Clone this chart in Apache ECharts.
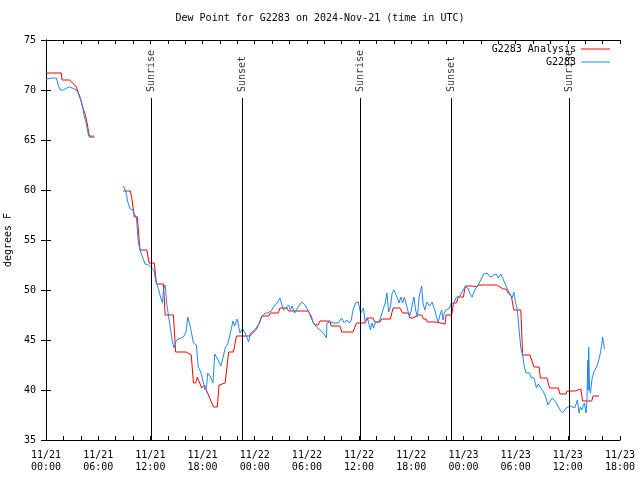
<!DOCTYPE html>
<html>
<head>
<meta charset="utf-8">
<script src="https://cdn.jsdelivr.net/npm/echarts@6/dist/echarts.min.js"></script>
<style>html,body{margin:0;padding:0;background:#fff}#c{width:640px;height:480px}</style>
</head>
<body>
<div id="c"></div>
<script>
// hours since 2024-11-21 00:00 UTC
const xTickLabels = ['11/21\n00:00','11/21\n06:00','11/21\n12:00','11/21\n18:00','11/22\n00:00','11/22\n06:00','11/22\n12:00','11/22\n18:00','11/23\n00:00','11/23\n06:00','11/23\n12:00','11/23\n18:00'];

const analysisTimes = [0,1.75,1.85,2.7,3.2,3.5,3.6,3.9,4.1,4.2,4.5,4.7,5.0,5.55,7,
8.9,9.7,9.9,10.15,10.5,10.8,11.6,11.85,12.45,12.7,13.5,13.7,14.65,14.9,16.1,16.7,16.95,17.2,17.4,17.6,17.9,18.2,18.4,19.25,19.7,19.9,20.6,21.0,21.55,21.9,23.45,24.2,24.6,24.8,25.6,25.8,26.7,26.9,27.7,27.9,30.2,30.6,30.9,31.3,31.5,32.65,32.8,33.8,34.0,35.3,35.7,36.7,36.9,37.6,37.8,38.4,38.6,39.6,39.9,40.7,41.0,41.7,41.85,42.2,42.4,42.8,43.2,43.4,43.7,43.85,44.85,45.0,45.9,46.0,46.65,46.85,47.2,47.4,48.0,48.2,49.0,49.2,49.5,49.8,51.8,52.2,52.6,52.9,53.15,53.5,53.7,53.8,54.6,54.8,55.65,56.1,56.7,56.85,57.6,57.9,58.9,59.1,59.8,59.9,60.8,61.0,61.5,61.7,62.75,62.9,63.6];
const analysisValues = [71.7,71.7,71.0,71.0,70.6,70.3,70.0,69.3,68.7,68.3,67.6,66.8,65.3,65.3,null,
59.9,59.9,59.0,57.3,57.3,54.0,54.0,52.7,52.7,50.6,50.6,47.5,47.5,43.8,43.8,43.5,40.7,40.7,41.3,41.3,40.2,40.5,40.5,38.3,38.3,40.5,40.7,43.8,43.8,45.4,45.4,46.1,46.8,47.4,47.4,47.7,47.7,48.2,48.2,47.9,47.9,47.0,46.5,46.5,46.9,46.9,46.4,46.4,45.8,45.8,46.7,46.7,47.2,47.2,46.8,46.8,47.1,47.1,48.2,48.2,47.7,47.7,47.2,47.2,47.1,47.5,47.5,47.1,47.1,46.8,46.8,46.6,46.6,47.5,47.5,48.7,48.7,49.3,49.3,50.4,50.4,50.3,50.3,50.5,50.5,50.3,50.1,50.1,49.7,49.4,49.4,48.0,48.0,43.5,43.5,42.3,42.3,41.2,41.2,40.2,40.2,39.6,39.6,39.9,39.9,40.1,40.1,38.9,38.9,39.4,39.4];

const obsTimes = [0,0.65,1.2,1.4,1.65,2.0,2.4,2.7,3.0,3.2,3.5,3.7,3.9,4.1,4.25,4.4,4.55,4.65,4.75,4.9,5.55,7,
8.9,9.1,9.2,9.4,9.7,10.0,10.15,10.4,10.6,10.8,11.1,11.4,11.8,12.4,12.6,12.9,13.2,13.4,13.5,13.7,13.9,14.2,14.5,14.7,15.0,15.5,15.8,16.1,16.3,16.6,16.95,17.3,17.5,17.8,18.0,18.3,18.45,18.6,18.9,19.2,19.4,19.8,20.1,20.35,20.6,20.9,21.2,21.5,21.7,22.0,22.3,22.6,22.9,23.3,23.5,24.0,24.4,24.8,25.2,25.5,25.9,26.3,26.6,26.9,27.1,27.3,27.6,27.9,28.1,28.3,28.6,29.0,29.4,29.8,30.2,30.5,30.7,31.1,31.5,31.9,32.25,32.3,32.65,33.1,33.6,34.0,34.3,34.6,34.9,35.1,35.3,35.6,35.9,36.1,36.2,36.5,36.7,37.0,37.3,37.5,37.65,37.9,38.3,39.0,39.2,39.4,39.6,39.8,40.0,40.2,40.4,40.6,40.8,41.0,41.2,41.5,41.8,42.0,42.3,42.5,42.7,42.9,43.2,43.35,43.55,43.8,44.1,44.4,44.5,44.7,44.9,45.1,45.3,45.5,45.65,45.8,46.0,46.4,46.6,46.9,47.2,47.6,47.9,48.2,48.5,48.7,49.0,49.3,49.7,50.1,50.3,50.7,51.1,51.5,51.8,52.0,52.3,52.6,53.0,53.3,53.6,53.8,53.9,54.0,54.2,54.4,54.6,54.8,55.0,55.2,55.6,55.75,56.1,56.4,56.6,56.9,57.2,57.5,57.7,57.9,58.2,58.4,58.7,59.1,59.4,59.8,60.0,60.3,60.5,60.8,61.1,61.3,61.45,61.6,61.9,62.0,62.1,62.2,62.3,62.35,62.4,62.5,62.6,62.8,63.0,63.3,63.5,63.7,63.9,64.0,64.1,64.2];
const obsValues = [71.1,71.2,71.2,70.5,70.0,70.0,70.2,70.3,70.2,70.1,70.0,69.7,69.2,68.7,68.2,67.3,67.0,67.0,66.1,65.4,65.4,null,
60.4,60.4,59.8,58.8,58.1,58.0,57.6,57.3,54.9,54.0,53.3,52.6,52.5,52.0,51.0,50.2,49.2,48.7,50.0,50.5,48.5,46.8,45.0,44.2,45.0,45.2,45.3,45.8,47.3,46.3,44.7,44.5,42.3,41.8,41.7,40.0,40.3,41.7,41.3,40.7,43.6,43.0,42.4,43.2,44.2,44.6,45.7,46.9,46.4,47.1,45.7,46.1,45.7,44.8,45.7,46.0,46.5,47.3,47.7,47.7,47.9,48.5,48.7,49.2,49.2,48.0,48.2,48.5,48.0,48.4,47.7,48.3,48.8,48.5,47.8,47.4,46.8,46.3,46.0,45.7,45.2,46.7,46.8,46.7,46.7,47.2,46.7,47.0,46.7,47.0,48.0,48.7,48.8,48.0,47.7,48.2,46.8,47.1,46.0,46.7,46.2,46.8,46.8,48.7,49.7,47.8,48.3,49.7,50.0,49.9,49.2,48.7,49.3,48.7,49.3,48.3,47.3,48.0,49.3,48.0,47.3,49.3,50.4,48.7,48.0,48.8,48.4,48.8,48.5,48.0,47.3,46.8,47.5,48.0,47.0,47.7,48.0,48.2,48.7,48.7,49.3,49.4,49.9,50.3,50.2,49.7,49.3,50.0,50.5,51.2,51.6,51.7,51.3,51.5,51.6,51.2,51.6,51.0,50.2,49.7,49.2,49.8,49.6,48.7,48.0,46.0,44.2,43.5,42.3,41.7,41.7,41.3,41.2,40.2,40.6,40.2,39.8,39.2,38.5,38.8,39.2,39.2,38.7,38.0,37.7,38.2,38.3,38.4,38.6,38.2,39.0,37.7,38.3,38.0,38.7,38.8,37.7,39.0,43.0,40.0,44.3,40.0,39.7,41.2,41.8,42.3,42.8,43.5,44.5,45.3,44.8,44.1];

const sunTimes = [12.1, 22.57, 36.1, 46.6, 60.15];
const sunLabels = ['Sunrise', 'Sunset', 'Sunrise', 'Sunset', 'Sunrise'];

const FONT = 'DejaVu Sans Mono';
const FS = 10;
const pair = (ts, vs) => ts.map((t, i) => [t, vs[i] === null ? '-' : vs[i]]);

const chart = echarts.init(document.getElementById('c'));
const axisCommon = {
  type: 'value', min: 0, max: 66, interval: 6,
  axisLine: { show: true, lineStyle: { color: '#000', width: 1 } },
  axisTick: { show: true, inside: true, length: 4, lineStyle: { color: '#000' } },
  minorTick: { show: true, splitNumber: 3, length: 4, lineStyle: { color: '#000' } },
  splitLine: { show: false }
};
const yCommon = {
  type: 'value', min: 35, max: 75, interval: 5,
  axisLine: { show: true, lineStyle: { color: '#000', width: 1 } },
  axisTick: { show: true, inside: true, length: 5, lineStyle: { color: '#000' } },
  splitLine: { show: false }
};
chart.setOption({
  animation: false,
  backgroundColor: '#fff',
  title: {
    text: 'Dew Point for G2283 on 2024-Nov-21 (time in UTC)',
    left: 'center', top: 8,
    textStyle: { fontFamily: FONT, fontSize: FS, fontWeight: 'normal', color: '#000' }
  },
  legend: {
    data: ['G2283 Analysis', 'G2283'],
    orient: 'vertical', right: 30, top: 44, align: 'right',
    itemWidth: 29, itemHeight: 1, itemGap: 3, icon: 'rect', padding: 0,
    textStyle: { fontFamily: FONT, fontSize: FS, color: '#000', padding: [0, 0, 0, 0] }
  },
  grid: { left: 46, right: 20, top: 40, bottom: 40, containLabel: false, outerBoundsMode: 'none' },
  xAxis: [
    Object.assign({}, axisCommon, {
      position: 'bottom',
      axisLabel: {
        fontFamily: FONT, fontSize: FS, color: '#000', margin: 9, lineHeight: 12,
        formatter: v => xTickLabels[Math.round(v / 6)]
      }
    }),
    Object.assign({}, axisCommon, { position: 'top', axisLabel: { show: false } })
  ],
  yAxis: [
    Object.assign({}, yCommon, {
      position: 'left',
      name: 'degrees F', nameLocation: 'middle', nameRotate: 90, nameGap: 31,
      nameTextStyle: { fontFamily: FONT, fontSize: FS, color: '#000' },
      axisLabel: { fontFamily: FONT, fontSize: FS, color: '#000', margin: 10 }
    }),
    Object.assign({}, yCommon, { position: 'right', axisLabel: { show: false } })
  ],
  series: [
    {
      name: 'sun', type: 'line', data: [], silent: true,
      markLine: {
        symbol: 'none', silent: true, animation: false,
        lineStyle: { color: '#000', width: 1, type: 'solid' },
        label: { show: false },
        data: sunTimes.map(t => [{ coord: [t, 35] }, { coord: [t, 69.2] }])
      }
    },
    {
      name: 'sunlabels', type: 'scatter', symbolSize: 0, silent: true,
      data: sunTimes.map((t, i) => ({ value: [t, 69.2], name: sunLabels[i] })),
      label: {
        show: true, position: 'top', distance: 6, rotate: 90,
        align: 'left', verticalAlign: 'middle',
        formatter: p => p.name,
        fontFamily: FONT, fontSize: FS, color: '#000'
      }
    },
    {
      name: 'G2283 Analysis', type: 'line', data: pair(analysisTimes, analysisValues),
      showSymbol: false, symbol: 'none', connectNulls: false,
      lineStyle: { color: '#ff0000', width: 1 }, itemStyle: { color: '#ff0000' }
    },
    {
      name: 'G2283', type: 'line', data: pair(obsTimes, obsValues),
      showSymbol: false, symbol: 'none', connectNulls: false,
      lineStyle: { color: '#1e88f0', width: 1 }, itemStyle: { color: '#1e88f0' }
    }
  ]
});
</script>
</body>
</html>
